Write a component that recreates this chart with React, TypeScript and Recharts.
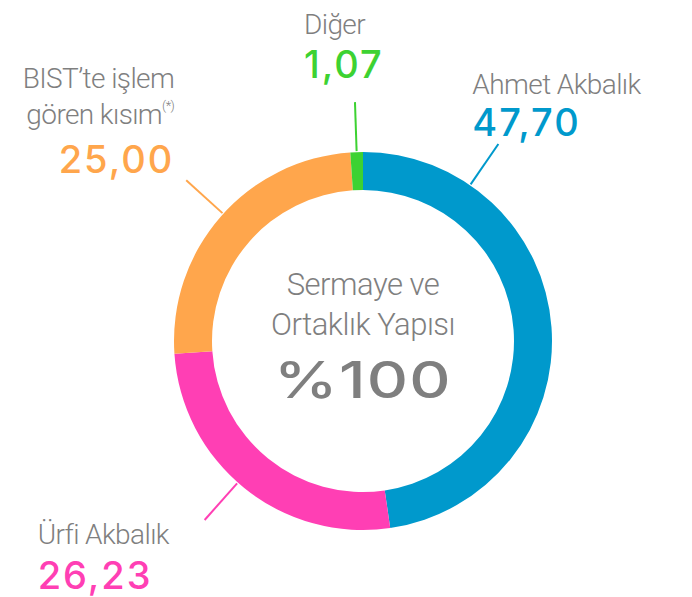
import { PieChart, Pie, Cell } from 'recharts';

const NAMES = ['Ahmet Akbalık', 'Ürfi Akbalık', 'BIST’te işlem gören kısım', 'Diğer'];
const VALUES = [47.7, 26.23, 25.0, 1.07];
const VALUE_LABELS = ['47,70', '26,23', '25,00', '1,07'];
const COLORS = ['#0099cc', '#ff3fb4', '#ffa64c', '#3dd232'];
const CENTER_LINES = ['Sermaye ve', 'Ortaklık Yapısı', '%100'];

const data = NAMES.map((name, i) => ({ name, value: VALUES[i] }));

const GRAY = '#7f7f7f';
const NAME_FONT = "Roboto, 'DejaVu Sans', sans-serif";
const NUM_FONT = "Inter, 'Open Sans', sans-serif";
const RAD = Math.PI / 180;

// label placement: leader angle (null = slice middle), text offsets from leader end
const LAYOUT = [
  { angle: 55.5, anchor: 'start', dx: -26, nameY: [-50], valueY: -8 },
  { angle: -131.5, anchor: 'start', dx: -167, nameY: [24], valueY: 69 },
  { angle: 137.7, anchor: 'end', dx: -12, nameY: [-92, -56], valueY: -7 },
  { angle: null, anchor: 'start', dx: -51, nameY: [-68], valueY: -24 },
];

function CenterText({ cx, cy }: { cx: number; cy: number }) {
  return (
    <g>
      <text x={cx} y={cy - 46} textAnchor="middle" fill={GRAY} fontSize={31} fontWeight={300} letterSpacing={-0.5} fontFamily={NAME_FONT}>
        {CENTER_LINES[0]}
      </text>
      <text x={cx} y={cy - 6} textAnchor="middle" fill={GRAY} fontSize={31} fontWeight={300} letterSpacing={-0.5} fontFamily={NAME_FONT}>
        {CENTER_LINES[1]}
      </text>
      <text
        x={0}
        y={0}
        transform={`translate(${cx},${cy + 57}) scale(1.28,1)`}
        textAnchor="middle"
        fill={GRAY}
        fontSize={50}
        fontWeight={500}
        letterSpacing={1}
        fontFamily={NUM_FONT}
      >
        {CENTER_LINES[2]}
      </text>
    </g>
  );
}

function renderLabel(props: any) {
  const { cx, cy, midAngle, outerRadius, index } = props;
  const lay = LAYOUT[index];
  const a = (lay.angle ?? midAngle) * RAD;
  const x1 = cx + (outerRadius + 1) * Math.cos(-a);
  const y1 = cy + (outerRadius + 1) * Math.sin(-a);
  const x2 = cx + (outerRadius + 50) * Math.cos(-a);
  const y2 = cy + (outerRadius + 50) * Math.sin(-a);
  const tx = x2 + lay.dx;
  const color = COLORS[index];
  const nameLines = index === 2 ? ['BIST’te işlem', 'gören kısım'] : [NAMES[index]];
  return (
    <g key={`lbl-${index}`}>
      {index === 0 ? <CenterText cx={cx} cy={cy} /> : null}
      <line x1={x1} y1={y1} x2={x2} y2={y2} stroke={color} strokeWidth={2} />
      {nameLines.map((ln, j) => (
        <text
          key={j}
          x={tx}
          y={y2 + lay.nameY[j]}
          textAnchor={lay.anchor}
          fill={GRAY}
          fontSize={28}
          fontWeight={300}
          letterSpacing={-0.6}
          fontFamily={NAME_FONT}
        >
          {ln}
          {index === 2 && j === 1 ? (
            <tspan fontSize={13} dy={-14}>(*)</tspan>
          ) : null}
        </text>
      ))}
      <text
        x={tx}
        y={y2 + lay.valueY}
        textAnchor={lay.anchor}
        fill={color}
        fontSize={38}
        fontWeight={500}
        letterSpacing={2}
        fontFamily={NUM_FONT}
      >
        {VALUE_LABELS[index]}
      </text>
    </g>
  );
}

export default function App() {
  return (
    <div style={{ position: 'absolute', left: 0, top: 0, width: 692, height: 597, background: '#fff' }}>
      <PieChart width={692} height={597} margin={{ top: 0, right: 0, bottom: 0, left: 0 }}>
        <Pie
          data={data}
          dataKey="value"
          nameKey="name"
          cx={363}
          cy={341}
          innerRadius={151}
          outerRadius={189}
          startAngle={90}
          endAngle={-270}
          stroke="none"
          label={renderLabel}
          labelLine={false}
          isAnimationActive={false}
        >
          {data.map((d, i) => (
            <Cell key={d.name} fill={COLORS[i]} />
          ))}
        </Pie>
      </PieChart>
    </div>
  );
}
